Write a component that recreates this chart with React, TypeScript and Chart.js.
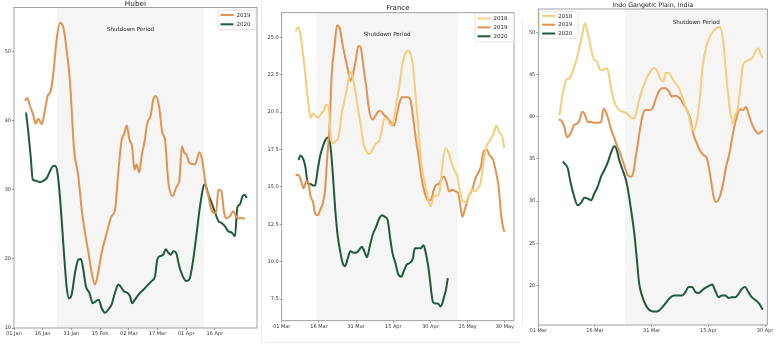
import React, { useEffect, useRef } from "react";
import { Chart, registerables } from "chart.js";

Chart.register(...registerables);

const FONT = "'DejaVu Sans', 'Liberation Sans', sans-serif";

// ---------- Hubei ----------
const hubeiXLabels = ["01 Jan", "16 Jan", "31 Jan", "15 Feb", "02 Mar", "17 Mar", "01 Apr", "16 Apr"];
const hubeiYTicks = [10, 20, 30, 40, 50];
const hubeiDays2019 = [5.7, 7, 8.4, 10, 11.3, 12.7, 14.5, 16.2, 17.6, 19.2, 20.6, 22.3, 24, 25.8, 27.5, 29.3, 31.4, 33.6, 35.4, 37.1, 38.9, 40.6, 42.3, 44, 45.8, 48, 49.3, 51, 52.8, 54.5, 56.3, 57.5, 58.9, 60.3, 61.7, 63, 64, 65.5, 66.7, 68.1, 69.7, 71.4, 72.8, 74.2, 75.8, 77.5, 78.9, 80.7, 82.9, 85, 86.4, 87.8, 88.9, 90.2, 91.6, 94.6, 96.9, 98.3, 100.3, 101.6, 102.8, 104.2, 105.6, 106.8, 108.4, 109.8, 111.1, 112.9, 114.6, 116.7, 119, 120.7];
const hubei2019 = [42.9, 43.3, 42.1, 40.9, 39.6, 40.3, 39.5, 41.6, 43.6, 44.3, 47, 51.8, 54.2, 53.5, 50.3, 45.5, 35.8, 32, 27.1, 23.8, 20.9, 18, 16.3, 18, 20.9, 23.3, 24.7, 26.2, 27.1, 32.5, 37.3, 38, 39.3, 37.3, 36.3, 32.9, 33.7, 32.5, 34.9, 36.8, 39.7, 40.7, 43.1, 43.6, 42.1, 38.3, 37.3, 31, 29.1, 30.5, 31.3, 36.3, 35.4, 35.1, 33.9, 33.7, 35.4, 34.4, 30.5, 29.1, 27.4, 26.7, 26.7, 30, 29.8, 26.7, 25.9, 26.2, 26.9, 25.9, 25.9, 25.9];
const hubeiDays2020 = [6.3, 7.5, 8.7, 9.8, 11.8, 13.6, 15.3, 17.1, 18.8, 20.2, 21.4, 22.6, 23.7, 24.9, 26.1, 27.5, 28.7, 30.1, 31.9, 33.6, 35, 36.2, 37.6, 39.4, 41.1, 42.9, 44.3, 45.8, 47.6, 49.3, 51, 52.8, 54.5, 55.7, 57.5, 59.2, 60.6, 61.8, 63.2, 65, 66.7, 68.5, 70.2, 71.9, 73.7, 74.9, 76.3, 78, 79.3, 80.7, 81.9, 83.3, 84.7, 86.4, 88.2, 89.9, 91.6, 93.4, 95.5, 97.2, 99, 99.8, 101.6, 103.3, 105.1, 106.8, 108.5, 110.3, 112, 113.8, 115.5, 116.7, 118.1, 119.5, 120.7, 121.6];
const hubei2020 = [41.2, 38.3, 34.9, 31.5, 31.3, 31.1, 31.3, 31.7, 32.7, 33.4, 33.5, 32.7, 30, 25.7, 20.9, 16, 14.3, 14.8, 18, 19.9, 20, 18.5, 16, 15.1, 13.6, 13.9, 14.1, 12.9, 12.2, 12.7, 13.4, 15.1, 16.3, 16, 15.3, 15.1, 14.6, 13.6, 14.1, 14.8, 15.3, 15.8, 16.3, 16.8, 17.5, 19.9, 20.4, 20.6, 21.4, 20.9, 20.6, 21.1, 20.9, 18.9, 17.5, 16.8, 17, 19.4, 23.8, 27.6, 30.5, 30.8, 29.3, 28.1, 26.7, 25.5, 25.2, 24.7, 24, 23.8, 23.3, 27.4, 27.9, 29.1, 29.3, 28.8];

// ---------- France ----------
const franceXLabels = ["01 Mar", "16 Mar", "31 Mar", "15 Apr", "30 Apr", "15 May", "30 May"];
const franceYTicks = [7.5, 10, 12.5, 15, 17.5, 20, 22.5, 25];
const franceDays2018 = [5.6, 6.8, 7.9, 9.2, 10.6, 11.6, 12.6, 13.9, 14.6, 15.9, 17, 17.9, 18.9, 19.7, 20.6, 22, 22.9, 24.2, 25.6, 26.6, 27.7, 28.7, 29.8, 30.9, 32, 33, 34.1, 35.3, 36.7, 38, 39.4, 40.4, 41.4, 42.7, 44, 45.4, 46.4, 47.5, 48.5, 49.6, 50.9, 52, 53, 54, 55.1, 56.1, 57.4, 58.8, 60.1, 61.4, 62.8, 63.8, 64.8, 66.1, 67.5, 68.5, 69.7, 70.8, 72.1, 73.2, 74.2, 75.5, 76.8, 78.2, 79.1, 79.9, 80.4, 81.5, 82.6, 83.9, 85.3, 86.6, 87.9, 88.9, 89.8];
const france2018 = [25.4, 25.7, 24.8, 23, 20.8, 19.6, 19.9, 19.7, 19.6, 19.9, 20.1, 20.5, 20.4, 18.6, 17.9, 18.1, 18.3, 19.9, 21, 21.8, 22.7, 22.3, 21.3, 20.1, 19, 17.9, 17.4, 17.2, 17.5, 17.9, 18.1, 18.8, 19.6, 19.5, 19.1, 19.6, 20.8, 21.8, 23, 23.8, 24.1, 23.9, 23, 21.1, 19, 16.8, 15.5, 14.4, 13.7, 14.4, 14.4, 14.8, 16.4, 17.6, 17.2, 16.6, 16.1, 15.7, 14.6, 14, 14, 14.4, 14.8, 14.7, 14.9, 15.1, 15.4, 16.8, 17.7, 18.1, 18.5, 19.1, 18.6, 18.4, 17.6];
const franceDays2019 = [5.6, 6.8, 7.6, 8.8, 9.9, 10.8, 11.6, 12.6, 13.5, 14.6, 15.6, 16.6, 17.5, 18.3, 19.3, 20.2, 21.3, 22.3, 23.4, 24.6, 25.7, 26.6, 27.7, 28.7, 29.8, 30.9, 31.7, 33, 34.1, 35.3, 36.7, 38, 39.4, 40.4, 41.4, 42.7, 44, 45.4, 46.4, 47.5, 48.5, 49.6, 50.9, 52, 53.1, 54.2, 55.3, 56.3, 57.7, 59, 60.1, 61.2, 62.1, 63.4, 64.4, 65.4, 66.5, 67.5, 68.8, 70.1, 71.1, 72.1, 72.9, 74.2, 75.5, 76.8, 78.2, 79.5, 80.4, 81.5, 82.6, 83.9, 85.3, 86.3, 87.5, 88.6, 89.3, 89.8];
const france2019 = [15.8, 15.8, 15.5, 14.9, 15.4, 15.3, 14.4, 14, 13.2, 13.1, 13.5, 13.9, 14.8, 16.8, 19, 22.6, 24.4, 25.8, 25.6, 24.5, 23.6, 22.9, 22.1, 22.5, 23.4, 24.4, 24.4, 23, 21.7, 20.1, 19.5, 19.8, 20.1, 20, 19.8, 19.6, 19.3, 19.1, 19.8, 20.6, 21, 21, 21, 20.8, 19.5, 18.1, 17, 15.7, 14.6, 14.1, 14.1, 14.7, 15.1, 15.2, 15.5, 15.7, 15.3, 14.7, 14.8, 14.7, 14.6, 13.7, 13, 13.7, 14.4, 14.8, 15.6, 16, 16.4, 17.4, 17.5, 17.1, 16.8, 16.1, 15, 13, 12.3, 12];
const franceDays2020 = [6.8, 7.6, 8.6, 9.5, 10.6, 11.6, 12.6, 13.5, 14.3, 15.4, 16.6, 17.5, 18.6, 19.7, 20.6, 21.5, 22.6, 23.7, 24.6, 25.6, 26.6, 27.7, 29, 30.1, 31.3, 32.4, 33.3, 34.4, 35.5, 36.7, 38, 39.4, 40.4, 41.6, 42.7, 43.8, 44.8, 45.9, 46.9, 48.3, 49.3, 50.4, 51.5, 52.9, 53.7, 54.8, 56.1, 57.2, 58.1, 59, 59.8, 60.4, 61, 62.1, 63, 64.1, 64.8, 65.4, 66.1, 67];
const france2020 = [16.8, 17.1, 16.9, 16.4, 15.2, 15.2, 15.1, 15.1, 15.9, 17, 17.7, 18.1, 18.3, 17.7, 15.9, 13.7, 11.7, 10.6, 9.9, 9.7, 10.2, 10.7, 10.6, 10.6, 10.8, 11, 10.7, 10.3, 11, 11.8, 12.3, 12.9, 13.1, 13, 12.8, 11.5, 10.5, 9.9, 9.2, 9, 9.4, 9.8, 9.9, 10.2, 10.9, 10.9, 10.9, 11.1, 10.6, 9.8, 8.8, 7.9, 7.3, 7.2, 7.2, 7, 7.2, 7.6, 8, 8.9];

// ---------- Indo Gangetic Plain ----------
const indiaXLabels = ["01 Mar", "16 Mar", "31 Mar", "15 Apr", "30 Apr"];
const indiaYTicks = [20, 25, 30, 35, 40, 45, 50];
const indiaDays2018 = [5.6, 6.5, 7.4, 8.3, 9.1, 10, 10.7, 11.5, 12.4, 13.1, 13.8, 14.7, 15.5, 16.4, 17.3, 18.2, 18.9, 19.7, 20.5, 21.4, 22.3, 23.2, 24.3, 25.4, 26.1, 26.9, 27.8, 28.9, 29.7, 30.6, 31.5, 32.4, 33.1, 33.7, 34.6, 35.4, 36.3, 37.2, 38.1, 38.9, 39.8, 40.4, 41.1, 42, 42.7, 43.5, 44.4, 45.4, 46.2, 47.1, 48, 48.9, 49.7, 50.6, 51.5, 52.1, 52.7, 53.4, 54.1, 55, 55.9, 56.8, 57.6, 58.3, 58.9, 59.4];
const india2018 = [40.2, 42.8, 44.4, 44.6, 45.4, 46.6, 47.9, 49.5, 51.1, 49.9, 48.4, 46.8, 46.6, 45.6, 45.6, 45.8, 44.4, 42.4, 41.4, 40.8, 40.6, 40.5, 40, 39.8, 40.8, 42.4, 43.6, 44.8, 45.4, 45.8, 45.4, 44.4, 44.2, 45.2, 45.2, 44.6, 44, 43.4, 42.4, 41.2, 40.2, 39, 38.4, 39.6, 42, 46, 48.3, 49.5, 50.1, 50.5, 50.7, 49.1, 45.2, 41.2, 39.2, 40.2, 40.8, 43.2, 46, 46.6, 46.8, 47.1, 47.9, 48.1, 47.3, 47];
const indiaDays2019 = [5.4, 6.2, 6.9, 7.6, 8.5, 9.4, 10.3, 10.9, 11.6, 12.2, 13.1, 14, 14.8, 15.7, 16.6, 17.3, 17.9, 18.5, 19.2, 20.1, 20.9, 21.8, 22.7, 23.6, 24.5, 25.2, 25.8, 26.6, 27.5, 28.4, 29.3, 30.2, 31, 31.9, 32.8, 33.7, 34.6, 35.3, 36, 36.9, 37.8, 38.5, 39.4, 40.3, 41, 41.9, 42.7, 43.6, 44.5, 45.1, 45.7, 46.4, 47.1, 48, 48.9, 49.7, 50.6, 51.5, 52.4, 53.3, 54.1, 55, 55.6, 56.5, 57.4, 58.3, 58.9, 59.4];
const india2019 = [39.7, 39.5, 38.8, 37.6, 38, 39, 39.2, 39.6, 40.6, 40.4, 39.4, 39.4, 39.3, 39.3, 39.4, 41, 40.6, 39.8, 38.6, 37.5, 36.5, 35.5, 34.3, 33.1, 32.9, 33.5, 35.3, 37.6, 40, 40.8, 40.8, 41, 42, 43, 43.4, 43.4, 43, 42.4, 42.5, 42.4, 42, 41.4, 40.8, 39.6, 38, 36.9, 36.1, 35.5, 35.2, 34.1, 32.5, 30.5, 29.9, 30.5, 32.1, 34.1, 35.7, 38, 39.8, 40.9, 40.8, 41.2, 40.4, 39.2, 38.4, 38, 38.2, 38.4];
const indiaDays2020 = [6.5, 7.1, 7.8, 8.5, 9.4, 10.4, 11.3, 12.2, 13.1, 14, 14.8, 15.7, 16.6, 17.5, 18.3, 19.2, 20.1, 20.6, 21.4, 22.3, 23.2, 23.9, 24.7, 25.4, 26.1, 26.7, 27.6, 28.4, 29.3, 30.4, 31.5, 32.6, 33.7, 34.8, 35.9, 36.9, 38.1, 38.9, 39.8, 40.7, 41.6, 42.5, 43.3, 44.2, 45.4, 46, 46.8, 47.7, 48.6, 49.5, 50.4, 51.2, 52.1, 53, 53.9, 54.7, 55.6, 56.5, 57.6, 58.5, 59.4];
const india2020 = [34.7, 34.4, 33.9, 32.3, 30.7, 29.5, 29.8, 30.4, 30.3, 30.1, 30.9, 31.7, 32.9, 33.7, 34.5, 35.7, 36.5, 36.3, 34.9, 33.7, 32.5, 30.9, 28.5, 26.2, 23, 20.2, 18.6, 17.7, 17.1, 16.9, 16.9, 17.3, 17.9, 18.5, 18.8, 18.8, 18.8, 19.2, 19.8, 19.8, 19.2, 19.1, 19.4, 19.7, 20, 20.1, 19.4, 18.6, 18.8, 18.8, 18.5, 18.6, 18.6, 19, 19.6, 19.8, 19.2, 18.6, 18.2, 17.8, 17.1];

const C2018 = "#f5cd7c";
const C2019 = "#e2914e";
const C2020 = "#1f5a3a";

type Series = { label: string; color: string; xs: number[]; ys: number[] };
type LegendCfg = { side: "left" | "right"; dx: number; dy: number; w: number; row: number; first: number };
type PanelCfg = {
  title: string; titleY: number; titleSize: number;
  left: number; width: number;
  area: { l: number; t: number; r: number; b: number };
  xMax: number; yMin: number; yMax: number;
  xLabels: string[]; yTicks: number[]; yDecimals: number;
  shutdown: [number, number]; shutdownTextY: number;
  series: Series[]; legend: LegendCfg;
};

const panels: PanelCfg[] = [
  {
    title: "Hubei", titleY: 5.5, titleSize: 7.3,
    left: 0, width: 258,
    area: { l: 14, t: 7.5, r: 257, b: 328 },
    xMax: 127, yMin: 10, yMax: 56.4,
    xLabels: hubeiXLabels, yTicks: hubeiYTicks, yDecimals: 0,
    shutdown: [22.5, 99.3], shutdownTextY: 53.2,
    series: [
      { label: "2019", color: C2019, xs: hubeiDays2019, ys: hubei2019 },
      { label: "2020", color: C2020, xs: hubeiDays2020, ys: hubei2020 },
    ],
    legend: { side: "right", dx: 1, dy: 2.5, w: 38, row: 9.3, first: 5 },
  },
  {
    title: "France", titleY: 10, titleSize: 7,
    left: 258, width: 260,
    area: { l: 23.7, t: 12.7, r: 256, b: 320.7 },
    xMax: 93.7, yMin: 6.05, yMax: 26.65,
    xLabels: franceXLabels, yTicks: franceYTicks, yDecimals: 1,
    shutdown: [14, 71], shutdownTextY: 25.2,
    series: [
      { label: "2018", color: C2018, xs: franceDays2018, ys: france2018 },
      { label: "2019", color: C2019, xs: franceDays2019, ys: france2019 },
      { label: "2020", color: C2020, xs: franceDays2020, ys: france2020 },
    ],
    legend: { side: "right", dx: 0, dy: 0.6, w: 39, row: 8.9, first: 5.2 },
  },
  {
    title: "Indo Gangetic Plain, India", titleY: 7.3, titleSize: 6.3,
    left: 518, width: 262,
    area: { l: 20.3, t: 9, r: 249.3, b: 325 },
    xMax: 60.6, yMin: 15.3, yMax: 52.8,
    xLabels: indiaXLabels, yTicks: indiaYTicks, yDecimals: 0,
    shutdown: [23, 60.6], shutdownTextY: 51.2,
    series: [
      { label: "2018", color: C2018, xs: indiaDays2018, ys: india2018 },
      { label: "2019", color: C2019, xs: indiaDays2019, ys: india2019 },
      { label: "2020", color: C2020, xs: indiaDays2020, ys: india2020 },
    ],
    legend: { side: "left", dx: 1.4, dy: 2.7, w: 38.3, row: 8.8, first: 4.2 },
  },
];

function makeDecor(cfg: PanelCfg) {
  return {
    id: "decor",
    beforeDatasetsDraw(chart: any) {
      const { ctx, chartArea: a, scales } = chart;
      const x = scales.x, y = scales.y;
      ctx.save();
      const x0 = x.getPixelForValue(cfg.shutdown[0]);
      const x1 = Math.min(x.getPixelForValue(cfg.shutdown[1]), a.right);
      ctx.fillStyle = "#f5f5f5";
      ctx.fillRect(x0, a.top, x1 - x0, a.bottom - a.top);
      ctx.fillStyle = "#222";
      ctx.font = `5.6px ${FONT}`;
      ctx.textAlign = "center";
      ctx.textBaseline = "middle";
      ctx.fillText("Shutdown Period", x.getPixelForValue((cfg.shutdown[0] + cfg.shutdown[1]) / 2), y.getPixelForValue(cfg.shutdownTextY));
      ctx.restore();
    },
    afterDraw(chart: any) {
      const { ctx, chartArea: a } = chart;
      ctx.save();
      // frame
      ctx.strokeStyle = "#8a8a8a";
      ctx.lineWidth = 0.8;
      ctx.strokeRect(a.left, a.top, a.right - a.left, a.bottom - a.top);
      // title
      ctx.fillStyle = "#222";
      ctx.font = `${cfg.titleSize}px ${FONT}`;
      ctx.textAlign = "center";
      ctx.textBaseline = "alphabetic";
      ctx.fillText(cfg.title, (a.left + a.right) / 2, cfg.titleY);
      // legend
      const L = cfg.legend;
      const n = chart.data.datasets.length;
      const h = L.first * 2 + L.row * (n - 1) + 0.5;
      const bx = L.side === "right" ? a.right - L.dx - L.w : a.left + L.dx;
      const by = a.top + L.dy;
      ctx.fillStyle = "rgba(255,255,255,0.85)";
      ctx.strokeStyle = "#d6d6d6";
      ctx.lineWidth = 0.7;
      ctx.beginPath();
      if ((ctx as any).roundRect) (ctx as any).roundRect(bx, by, L.w, h, 1.5);
      else ctx.rect(bx, by, L.w, h);
      ctx.fill();
      ctx.stroke();
      ctx.font = `5.5px ${FONT}`;
      ctx.textAlign = "left";
      ctx.textBaseline = "middle";
      chart.data.datasets.forEach((ds: any, i: number) => {
        const yy = by + L.first + i * L.row;
        ctx.strokeStyle = ds.borderColor;
        ctx.lineWidth = 2;
        ctx.beginPath();
        ctx.moveTo(bx + 2.5, yy);
        ctx.lineTo(bx + 15.5, yy);
        ctx.stroke();
        ctx.fillStyle = "#222";
        ctx.fillText(ds.label, bx + 18.5, yy + 0.3);
      });
      ctx.restore();
    },
  };
}

function Panel({ cfg }: { cfg: PanelCfg }) {
  const ref = useRef<HTMLCanvasElement | null>(null);
  useEffect(() => {
    if (!ref.current) return;
    const tickFont = { family: FONT, size: 5 };
    const chart = new Chart(ref.current, {
      type: "line",
      data: {
        datasets: cfg.series.map((s) => ({
          label: s.label,
          data: s.xs.map((x, i) => ({ x, y: s.ys[i] })),
          borderColor: s.color,
          backgroundColor: s.color,
          borderWidth: 2,
          pointRadius: 0,
          cubicInterpolationMode: "monotone" as const,
          fill: false,
        })),
      },
      options: {
        animation: false,
        responsive: false,
        maintainAspectRatio: false,
        devicePixelRatio: 1,
        events: [],
        layout: { padding: { left: 0, top: cfg.area.t, right: cfg.width - cfg.area.r, bottom: 0 } },
        plugins: { legend: { display: false }, title: { display: false }, tooltip: { enabled: false } },
        scales: {
          x: {
            type: "linear",
            min: 0,
            max: cfg.xMax,
            afterFit: (s: any) => { s.height = 345 - cfg.area.b; },
            afterBuildTicks: (s: any) => { s.ticks = cfg.xLabels.map((_, i) => ({ value: i * 15 })); },
            ticks: {
              callback: (v: any) => cfg.xLabels[Math.round(Number(v) / 15)] ?? "",
              font: tickFont, color: "#333", padding: 1, maxRotation: 0, autoSkip: false,
            },
            grid: { display: true, drawOnChartArea: false, drawTicks: true, tickLength: 2, color: "#555", lineWidth: 0.6 },
            border: { display: false },
          },
          y: {
            type: "linear",
            min: cfg.yMin,
            max: cfg.yMax,
            afterFit: (s: any) => { s.width = cfg.area.l; },
            afterBuildTicks: (s: any) => { s.ticks = cfg.yTicks.map((v) => ({ value: v })); },
            ticks: {
              callback: (v: any) => Number(v).toFixed(cfg.yDecimals),
              font: tickFont, color: "#333", padding: 1, autoSkip: false,
            },
            grid: { display: true, drawOnChartArea: false, drawTicks: true, tickLength: 2, color: "#555", lineWidth: 0.6 },
            border: { display: false },
          },
        },
      },
      plugins: [makeDecor(cfg)],
    } as any);
    return () => chart.destroy();
  }, [cfg]);
  return (
    <canvas
      ref={ref}
      width={cfg.width}
      height={345}
      style={{ position: "absolute", left: cfg.left, top: 0, width: cfg.width, height: 345 }}
    />
  );
}

export default function App() {
  return (
    <div style={{ position: "absolute", left: 0, top: 0, width: 780, height: 345, background: "#fff", overflow: "hidden" }}>
      {panels.map((p) => (
        <Panel key={p.title} cfg={p} />
      ))}
      <div style={{ position: "absolute", left: 261, top: 0, width: 0, height: 343, borderLeft: "1px solid #ececec" }} />
      <div style={{ position: "absolute", left: 266, top: 342, width: 254, height: 0, borderTop: "1px solid #ececec" }} />
      <div style={{ position: "absolute", left: 522, top: 20, width: 0, height: 305, borderLeft: "1px solid #ececec" }} />
    </div>
  );
}
